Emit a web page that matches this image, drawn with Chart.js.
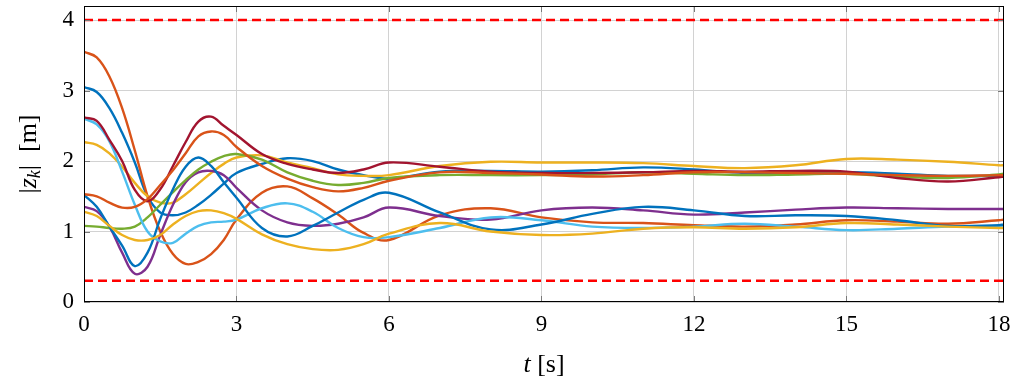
<!DOCTYPE html>
<html lang="en">
<head>
<meta charset="UTF-8">
<title>|z_k| over time</title>
<script src="https://cdn.jsdelivr.net/npm/chart.js"></script>
<style>
  html, body { margin: 0; padding: 0; background: #ffffff; }
  #wrap { width: 1021px; height: 387px; position: relative; }
</style>
</head>
<body>
<div id="wrap"><canvas id="zChart"></canvas></div>
<script>
// sample times [s]
const time = [0, 0.25, 0.5, 0.75, 1, 1.25, 1.5, 1.75, 2, 2.25, 2.5, 2.75, 3, 3.5, 4, 4.5,
              5, 5.5, 6, 7, 8, 9, 10, 11, 12, 13, 14, 15, 16, 17, 18, 18.1];

// |z_k| [m] for each agent
const zBlue1 = [3.05, 2.98, 2.75, 2.4, 1.98, 1.5, 1.27, 1.23, 1.27, 1.38, 1.52, 1.68, 1.83, 1.96, 2.04, 2.0,
                1.88, 1.8, 1.75, 1.85, 1.86, 1.85, 1.87, 1.91, 1.88, 1.83, 1.83, 1.84, 1.82, 1.79, 1.79, 1.8];
const zOrange1 = [3.55, 3.47, 3.2, 2.75, 2.15, 1.5, 1.0, 0.68, 0.54, 0.57, 0.68, 0.88, 1.17, 1.55, 1.64, 1.47,
                  1.24, 0.98, 0.88, 1.23, 1.33, 1.2, 1.13, 1.12, 1.09, 1.07, 1.1, 1.16, 1.14, 1.11, 1.16, 1.17];
const zYellow1 = [2.27, 2.23, 2.11, 1.92, 1.69, 1.5, 1.41, 1.41, 1.53, 1.68, 1.83, 1.96, 2.05, 2.08, 1.98, 1.9,
                  1.81, 1.79, 1.8, 1.93, 1.99, 1.98, 1.98, 1.97, 1.93, 1.9, 1.94, 2.03, 2.02, 1.99, 1.94, 1.94];
const zPurple = [1.35, 1.29, 1.07, 0.7, 0.4, 0.5, 0.95, 1.38, 1.7, 1.84, 1.86, 1.8, 1.62, 1.3, 1.13, 1.08,
                 1.11, 1.2, 1.34, 1.22, 1.17, 1.3, 1.34, 1.3, 1.24, 1.27, 1.31, 1.34, 1.33, 1.32, 1.32, 1.32];
const zGreen = [1.08, 1.07, 1.05, 1.04, 1.07, 1.2, 1.38, 1.56, 1.73, 1.88, 1.99, 2.07, 2.1, 2.02, 1.84, 1.72,
                1.66, 1.69, 1.76, 1.8, 1.8, 1.8, 1.81, 1.84, 1.82, 1.8, 1.81, 1.82, 1.78, 1.76, 1.81, 1.82];
const zLightBlue = [2.6, 2.52, 2.28, 1.85, 1.38, 1.0, 0.86, 0.84, 0.97, 1.08, 1.13, 1.14, 1.17, 1.33, 1.4, 1.28,
                    1.05, 0.92, 0.92, 1.05, 1.2, 1.16, 1.07, 1.05, 1.07, 1.11, 1.07, 1.02, 1.04, 1.07, 1.07, 1.07];
const zDarkRed = [2.62, 2.57, 2.3, 2.0, 1.59, 1.43, 1.6, 1.93, 2.27, 2.56, 2.63, 2.5, 2.37, 2.1, 1.96, 1.88,
                  1.83, 1.88, 1.98, 1.92, 1.85, 1.83, 1.83, 1.84, 1.86, 1.85, 1.86, 1.85, 1.76, 1.71, 1.77, 1.78];
const zBlue2 = [1.52, 1.35, 1.07, 0.8, 0.51, 0.7, 1.18, 1.6, 1.92, 2.05, 1.93, 1.7, 1.48, 1.05, 0.93, 1.08,
                1.27, 1.45, 1.55, 1.27, 1.03, 1.1, 1.25, 1.35, 1.3, 1.22, 1.23, 1.22, 1.16, 1.08, 1.09, 1.1];
const zOrange2 = [1.53, 1.5, 1.41, 1.34, 1.35, 1.46, 1.66, 1.87, 2.11, 2.35, 2.42, 2.37, 2.2, 1.93, 1.75, 1.63,
                  1.57, 1.62, 1.72, 1.84, 1.83, 1.81, 1.78, 1.8, 1.84, 1.84, 1.83, 1.82, 1.8, 1.79, 1.8, 1.8];
const zYellow2 = [1.28, 1.22, 1.08, 0.95, 0.88, 0.88, 0.95, 1.1, 1.22, 1.29, 1.3, 1.26, 1.18, 0.96, 0.82, 0.75,
                  0.74, 0.82, 0.97, 1.12, 1.0, 0.95, 0.97, 1.04, 1.06, 1.04, 1.06, 1.12, 1.1, 1.07, 1.05, 1.05];

// safety bounds (dashed red)
const zMax = 4;
const zMin = 0.3;

const xTicks = [0, 3, 6, 9, 12, 15, 18];
const yTicks = [0, 1, 2, 3, 4];

const series = [
  { values: zBlue1, color: '#0072BD' },
  { values: zOrange1, color: '#D95319' },
  { values: zYellow1, color: '#EDB120' },
  { values: zPurple, color: '#7E2F8E' },
  { values: zGreen, color: '#77AC30' },
  { values: zLightBlue, color: '#4DBEEE' },
  { values: zDarkRed, color: '#A2142F' },
  { values: zBlue2, color: '#0072BD' },
  { values: zOrange2, color: '#D95319' },
  { values: zYellow2, color: '#EDB120' }
];

const tEnd = time[time.length - 1];
const FONT = '"Liberation Serif", "DejaVu Serif", serif';

var datasets = [];
// bound lines first in array -> drawn last (on top)
[zMax, zMin].forEach(function (b) {
  datasets.push({
    data: [{ x: 0, y: b }, { x: tEnd, y: b }],
    borderColor: '#ff0000',
    borderWidth: 2.5,
    borderDash: [9, 5],
    pointRadius: 0,
    tension: 0
  });
});
series.slice().reverse().forEach(function (s) {
  datasets.push({
    data: s.values.map(function (v, i) { return { x: time[i], y: v }; }),
    borderColor: s.color,
    borderWidth: 2.4,
    pointRadius: 0,
    tension: 0.4,
    fill: false
  });
});

// axis titles + inward tick marks, pgfplots style
const decorations = {
  id: 'decorations',
  afterDraw: function (chart) {
    var ctx = chart.ctx;
    var area = chart.chartArea;
    var xs = chart.scales.x, ys = chart.scales.y;
    ctx.save();
    // inner ticks
    ctx.strokeStyle = '#7a7a7a';
    ctx.lineWidth = 1;
    xTicks.forEach(function (t) {
      var px = Math.round(xs.getPixelForValue(t)) + 0.5;
      ctx.beginPath();
      ctx.moveTo(px, area.bottom); ctx.lineTo(px, area.bottom - 6);
      ctx.moveTo(px, area.top); ctx.lineTo(px, area.top + 6);
      ctx.stroke();
    });
    yTicks.forEach(function (v) {
      var py = Math.round(ys.getPixelForValue(v)) + 0.5;
      ctx.beginPath();
      ctx.moveTo(area.left, py); ctx.lineTo(area.left + 6, py);
      ctx.moveTo(area.right, py); ctx.lineTo(area.right - 6, py);
      ctx.stroke();
    });
    // frame
    ctx.strokeStyle = '#000000';
    ctx.strokeRect(area.left + 0.5, area.top + 0.5, area.right - area.left - 1, area.bottom - area.top - 1);

    ctx.fillStyle = '#000000';
    ctx.textBaseline = 'alphabetic';
    // x title: t [s]
    var parts = [
      { text: 't', font: 'italic 26px ' + FONT },
      { text: ' [s]', font: '26px ' + FONT }
    ];
    var w = 0;
    parts.forEach(function (p) { ctx.font = p.font; p.w = ctx.measureText(p.text).width; w += p.w; });
    var cx = (area.left + area.right) / 2;
    var x0 = cx - w / 2;
    parts.forEach(function (p) { ctx.font = p.font; ctx.fillText(p.text, x0, 372); x0 += p.w; });

    // y title: |z_k| [m]
    ctx.translate(36, (area.top + area.bottom) / 2);
    ctx.rotate(-Math.PI / 2);
    var yparts = [
      { text: '|', font: '26px ' + FONT, dy: 0 },
      { text: 'z', font: 'italic 26px ' + FONT, dy: 0 },
      { text: 'k', font: 'italic 18px ' + FONT, dy: 4 },
      { text: '|  [m]', font: '26px ' + FONT, dy: 0 }
    ];
    w = 0;
    yparts.forEach(function (p) { ctx.font = p.font; p.w = ctx.measureText(p.text).width; w += p.w; });
    x0 = -w / 2;
    yparts.forEach(function (p) { ctx.font = p.font; ctx.fillText(p.text, x0, p.dy); x0 += p.w; });
    ctx.restore();
  }
};

var ctx = document.getElementById('zChart').getContext('2d');
new Chart(ctx, {
  type: 'line',
  data: { datasets: datasets },
  plugins: [decorations],
  options: {
    responsive: true,
    maintainAspectRatio: false,
    animation: false,
    events: [],
    layout: { padding: { left: 0, right: 17, top: 6, bottom: 0 } },
    plugins: { legend: { display: false }, tooltip: { enabled: false } },
    scales: {
      x: {
        type: 'linear',
        min: 0,
        max: tEnd,
        afterFit: function (s) { s.height = 85; s.paddingLeft = 0; s.paddingRight = 0; },
        afterBuildTicks: function (s) { s.ticks = xTicks.map(function (v) { return { value: v }; }); },
        grid: { color: '#d2d2d2', lineWidth: 1, drawTicks: false },
        border: { display: false },
        ticks: { padding: 9, color: '#000', font: { family: FONT, size: 23 }, maxRotation: 0 }
      },
      y: {
        type: 'linear',
        min: 0,
        max: 4.2,
        afterFit: function (s) { s.width = 84; s.paddingTop = 0; s.paddingBottom = 0; },
        afterBuildTicks: function (s) { s.ticks = yTicks.map(function (v) { return { value: v }; }); },
        grid: { color: '#d2d2d2', lineWidth: 1, drawTicks: false },
        border: { display: false },
        ticks: { padding: 10, color: '#000', font: { family: FONT, size: 23 } }
      }
    }
  }
});
</script>
</body>
</html>
